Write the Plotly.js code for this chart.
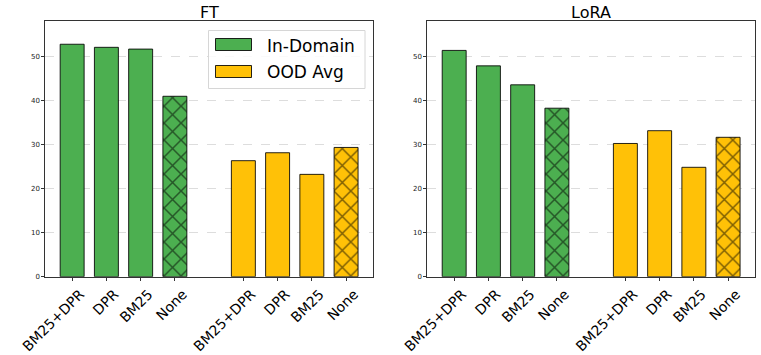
<!DOCTYPE html>
<html>
<head>
<meta charset="utf-8">
<script src="https://cdn.plot.ly/plotly-3.0.1.min.js"></script>
<style>
  html, body { margin: 0; padding: 0; background: #fff; }
  #chart { width: 761px; height: 355px; }
</style>
</head>
<body>
<div id="chart"></div>
<script>
// retrieval setups, same order in both groups
const methods = ['BM25+DPR', 'DPR', 'BM25', 'None'];
const seriesNames = ['In-Domain', 'OOD Avg'];

// scores
const ftInDomain = [52.7, 52.0, 51.6, 40.9];
const ftOOD = [26.3, 28.1, 23.2, 29.3];
const loraInDomain = [51.3, 47.8, 43.5, 38.2];
const loraOOD = [30.2, 33.1, 24.8, 31.6];

const GREEN = '#4caf50';
const YELLOW = '#ffc107';
const FONT = 'DejaVu Sans, sans-serif';
const W = 761, H = 355;

// in-domain bars sit at 0..3, OOD bars after a one-slot gap
const posIn = methods.map((_, i) => i);
const posOod = methods.map((_, i) => i + methods.length + 1);
const hatch = methods.map(m => (m === 'None' ? 'x' : ''));

function barTrace(vals, pos, color, name, xa, ya) {
    return {
        type: 'bar',
        x: pos,
        y: vals,
        width: 0.7,
        name: name,
        showlegend: false,
        xaxis: xa,
        yaxis: ya,
        marker: {
            color: color,
            line: { color: 'rgba(0,0,0,0.85)', width: 1 },
            pattern: { shape: hatch, fillmode: 'overlay', fgcolor: '#000', size: 12, solidity: 0.24 }
        },
        hoverinfo: 'skip'
    };
}

const data = [
    barTrace(ftInDomain, posIn, GREEN, seriesNames[0], 'x', 'y'),
    barTrace(ftOOD, posOod, YELLOW, seriesNames[1], 'x', 'y'),
    barTrace(loraInDomain, posIn, GREEN, seriesNames[0], 'x2', 'y2'),
    barTrace(loraOOD, posOod, YELLOW, seriesNames[1], 'x2', 'y2')
];

const tickPos = posIn.concat(posOod);
const tickText = methods.concat(methods);

function xAxis(domain, anchor) {
    return {
        domain: domain,
        anchor: anchor,
        range: [-0.785, 8.785],
        tickvals: tickPos,
        ticktext: tickText,
        tickangle: -45,
        ticklabelshift: 8,
        tickfont: { family: FONT, size: 14, color: '#000' },
        ticks: 'outside', ticklen: 3, tickcolor: '#333',
        showline: true, mirror: true, linecolor: '#333', linewidth: 1,
        showgrid: false, zeroline: false, automargin: false, fixedrange: true
    };
}

function yAxis(anchor) {
    return {
        domain: [0.2206, 0.94],
        anchor: anchor,
        range: [0, 57.9],
        tickvals: [0, 10, 20, 30, 40, 50],
        tickfont: { family: FONT, size: 7, color: '#222' },
        ticks: 'outside', ticklen: 3, tickcolor: '#333',
        showline: true, mirror: true, linecolor: '#333', linewidth: 1,
        showgrid: true, gridcolor: '#cfcfcf', griddash: 'dash', gridwidth: 0.7,
        zeroline: false, automargin: false, fixedrange: true
    };
}

// hand-built legend in the FT panel (wide swatches like matplotlib)
const px = v => v / W;
const py = v => 1 - v / H;
const legendShapes = [
    { type: 'rect', xref: 'paper', yref: 'paper', x0: px(208.5), x1: px(365), y0: py(30.5), y1: py(88.5),
      fillcolor: 'rgba(255,255,255,0.85)', line: { color: '#d6d6d6', width: 1 } },
    { type: 'rect', xref: 'paper', yref: 'paper', x0: px(215.5), x1: px(251.5), y0: py(38.5), y1: py(50.5),
      fillcolor: GREEN, line: { color: 'rgba(0,0,0,0.85)', width: 1 } },
    { type: 'rect', xref: 'paper', yref: 'paper', x0: px(215.5), x1: px(251.5), y0: py(65.5), y1: py(77.5),
      fillcolor: YELLOW, line: { color: 'rgba(0,0,0,0.85)', width: 1 } }
];
const legendText = seriesNames.map((name, i) => ({
    text: name, xref: 'paper', yref: 'paper', x: px(265), y: py(45.5 + i * 26.5),
    xanchor: 'left', yanchor: 'middle', showarrow: false, font: { family: FONT, size: 17, color: '#000' }
}));

const layout = {
    width: W,
    height: H,
    margin: { l: 0, r: 0, t: 0, b: 0 },
    paper_bgcolor: '#fff',
    plot_bgcolor: '#fff',
    font: { family: FONT, color: '#000' },
    barmode: 'overlay',
    xaxis: xAxis([0.0595, 0.4901], 'y'),
    yaxis: yAxis('x'),
    xaxis2: xAxis([0.5615, 0.9921], 'y2'),
    yaxis2: yAxis('x2'),
    showlegend: false,
    shapes: legendShapes,
    annotations: [
        { text: 'FT', x: 0.2748, y: 0.966, xref: 'paper', yref: 'paper', xanchor: 'center', yanchor: 'middle', showarrow: false, font: { family: FONT, size: 16 } },
        { text: 'LoRA', x: 0.7768, y: 0.966, xref: 'paper', yref: 'paper', xanchor: 'center', yanchor: 'middle', showarrow: false, font: { family: FONT, size: 16 } }
    ].concat(legendText)
};

Plotly.newPlot('chart', data, layout, { displayModeBar: false, staticPlot: true });
</script>
</body>
</html>
